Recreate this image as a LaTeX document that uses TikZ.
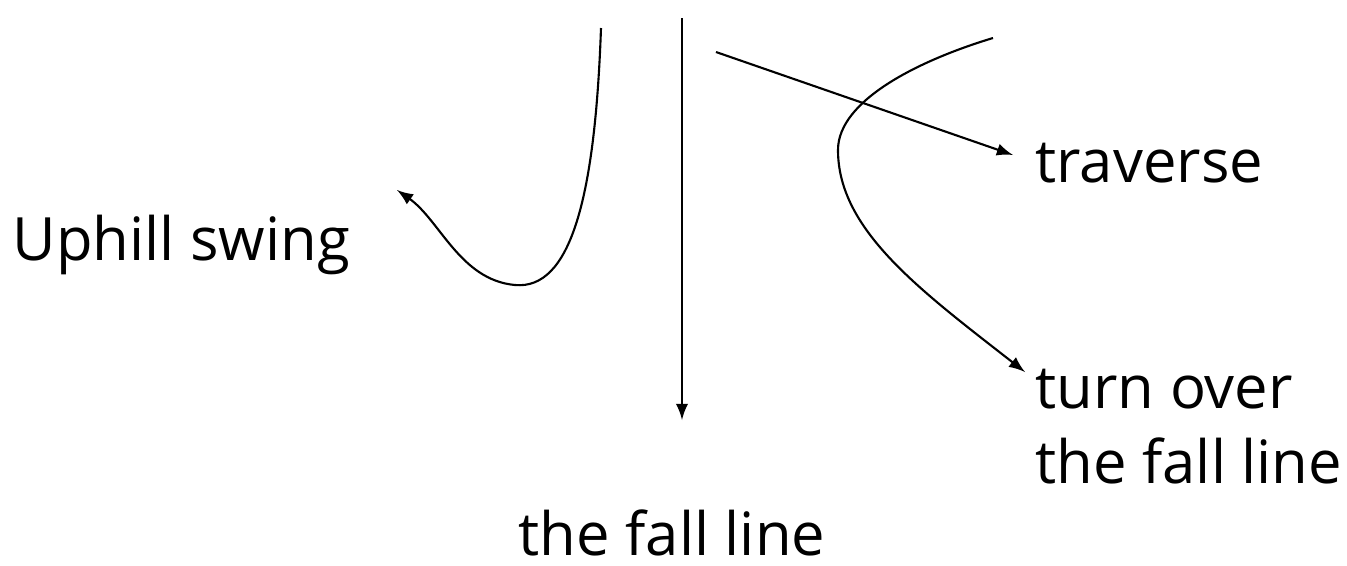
\documentclass[tikz,border=0pt]{standalone}
\usepackage{fontspec}
\setmainfont{Open Sans}
\usepackage{tikz}
\usetikzlibrary{arrows,backgrounds,positioning}
\pgfdeclarelayer{edgelayer}
\pgfdeclarelayer{nodelayer}
\pgfsetlayers{background,edgelayer,nodelayer,main}
\tikzstyle{none}=[inner sep=0mm]
\tikzstyle{lbl}=[inner sep=0mm,anchor=west,align=left,font=\fontsize{17}{21.3}\selectfont]
\tikzstyle{ski}=[line width=0.6pt,-latex]
\begin{document}
\begin{tikzpicture}
	\useasboundingbox (0,0) rectangle (13.47,-5.65);
	\begin{pgfonlayer}{nodelayer}
		\node [style=none] (ft) at (6.82, -0.18) {};
		\node [style=none] (fb) at (6.82, -4.2) {};
		\node [style=none] (tt) at (7.16, -0.52) {};
		\node [style=none] (tb) at (10.13, -1.55) {};
		\node [style=none] (ut) at (6.01, -0.28) {};
		\node [style=none] (um) at (5.15, -2.85) {};
		\node [style=none] (ue) at (3.97, -1.9) {};
		\node [style=none] (ct) at (9.93, -0.38) {};
		\node [style=none] (cm) at (8.38, -1.5) {};
		\node [style=none] (ce) at (10.25, -3.72) {};
		\node [style=lbl] (uphill) at (0.12, -2.45) {Uphill swing};
		\node [style=lbl] (trav) at (10.35, -1.63) {traverse};
		\node [style=lbl] (turn) at (10.35, -4.27) {turn over\\the fall line};
		\node [style=lbl,anchor=center] (fall) at (6.72, -5.33) {the fall line};
	\end{pgfonlayer}
	\begin{pgfonlayer}{edgelayer}
		\draw [style=ski] (ft.center) to (fb.center);
		\draw [style=ski] (tt.center) to (tb.center);
		\draw [style=ski] (ut.center) .. controls (5.95, -2.0) and (5.7, -2.9) .. (um.center)
			.. controls (4.6, -2.8) and (4.4, -2.2) .. (ue.center);
		\draw [style=ski] (ct.center) .. controls (9.2, -0.6) and (8.38, -1.0) .. (cm.center)
			.. controls (8.38, -2.3) and (9.2, -2.9) .. (ce.center);
	\end{pgfonlayer}
\end{tikzpicture}
\end{document}
